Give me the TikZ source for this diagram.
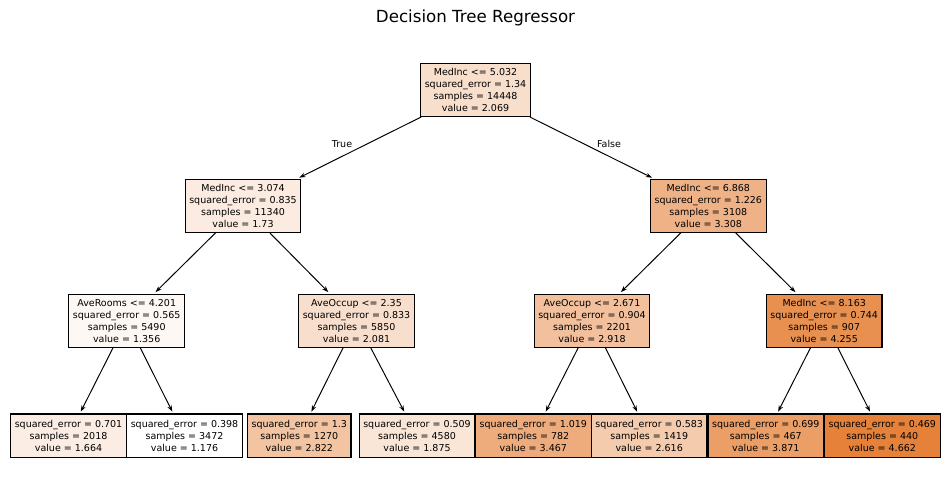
\documentclass[tikz,border=0pt]{standalone}
\usepackage{fontspec}
\setmainfont{DejaVu Sans}
\usetikzlibrary{arrows.meta}
\definecolor{treeorange}{RGB}{229,129,57}
\tikzset{
  treebox/.style={draw=black, line width=0.8pt, align=center, inner xsep=2.9pt,
    inner ysep=0pt, font=\fontsize{6.85}{8.64}\selectfont},
  splitbox/.style={treebox, minimum height=38.2pt},
  leafbox/.style={treebox, minimum height=31.6pt},
  edge/.style={draw=black, line width=0.7pt, -{Stealth[length=4.5pt,width=3.2pt]}, shorten >=1.5pt},
  edgelabel/.style={font=\fontsize{6.85}{8.64}\selectfont, inner sep=0pt},
}
\begin{document}
\begin{tikzpicture}[x=0.72pt, y=-0.72pt]
\useasboundingbox (0,0) rectangle (950,504);
\node[font=\fontsize{12}{14}\selectfont] (title) at (475.5,18) {Decision Tree Regressor};

\node[splitbox, fill=treeorange!25.6!white] (n0) at (475.5,90) {MedInc <= 5.032\\squared\_error = 1.34\\samples = 14448\\value = 2.069};

\node[splitbox, fill=treeorange!15.9!white] (n1) at (243,205.7) {MedInc <= 3.074\\squared\_error = 0.835\\samples = 11340\\value = 1.73};
\node[splitbox, fill=treeorange!61.2!white] (n2) at (708.3,205.7) {MedInc <= 6.868\\squared\_error = 1.226\\samples = 3108\\value = 3.308};

\node[splitbox, fill=treeorange!5.2!white] (n3) at (126.7,320.7) {AveRooms <= 4.201\\squared\_error = 0.565\\samples = 5490\\value = 1.356};
\node[splitbox, fill=treeorange!26.0!white] (n4) at (356.5,320.7) {AveOccup <= 2.35\\squared\_error = 0.833\\samples = 5850\\value = 2.081};
\node[splitbox, fill=treeorange!50.0!white] (n5) at (592,320.7) {AveOccup <= 2.671\\squared\_error = 0.904\\samples = 2201\\value = 2.918};
\node[splitbox, fill=treeorange!88.3!white] (n6) at (824.2,320.7) {MedInc <= 8.163\\squared\_error = 0.744\\samples = 907\\value = 4.255};

\node[leafbox, fill=treeorange!14.0!white] (l1) at (68.5,436) {squared\_error = 0.701\\samples = 2018\\value = 1.664};
\node[leafbox, fill=white] (l2) at (184.5,436) {squared\_error = 0.398\\samples = 3472\\value = 1.176};
\node[leafbox, fill=treeorange!47.2!white] (l3) at (299.3,436) {squared\_error = 1.3\\samples = 1270\\value = 2.822};
\node[leafbox, fill=treeorange!20.1!white] (l4) at (417,436) {squared\_error = 0.509\\samples = 4580\\value = 1.875};
\node[leafbox, fill=treeorange!65.7!white] (l5) at (533.3,436) {squared\_error = 1.019\\samples = 782\\value = 3.467};
\node[leafbox, fill=treeorange!41.3!white] (l6) at (649.2,436) {squared\_error = 0.583\\samples = 1419\\value = 2.616};
\node[leafbox, fill=treeorange!77.3!white] (l7) at (765.8,436) {squared\_error = 0.699\\samples = 467\\value = 3.871};
\node[leafbox, fill=treeorange] (l8) at (882.3,436) {squared\_error = 0.469\\samples = 440\\value = 4.662};

\draw[edge] (n0) -- (n1);
\draw[edge] (n0) -- (n2);
\draw[edge] (n1) -- (n3);
\draw[edge] (n1) -- (n4);
\draw[edge] (n2) -- (n5);
\draw[edge] (n2) -- (n6);
\draw[edge] (n3) -- (l1);
\draw[edge] (n3) -- (l2);
\draw[edge] (n4) -- (l3);
\draw[edge] (n4) -- (l4);
\draw[edge] (n5) -- (l5);
\draw[edge] (n5) -- (l6);
\draw[edge] (n6) -- (l7);
\draw[edge] (n6) -- (l8);

\node[edgelabel] (tlabel) at (342,144) {True};
\node[edgelabel] (flabel) at (609,144) {False};
\end{tikzpicture}
\end{document}
